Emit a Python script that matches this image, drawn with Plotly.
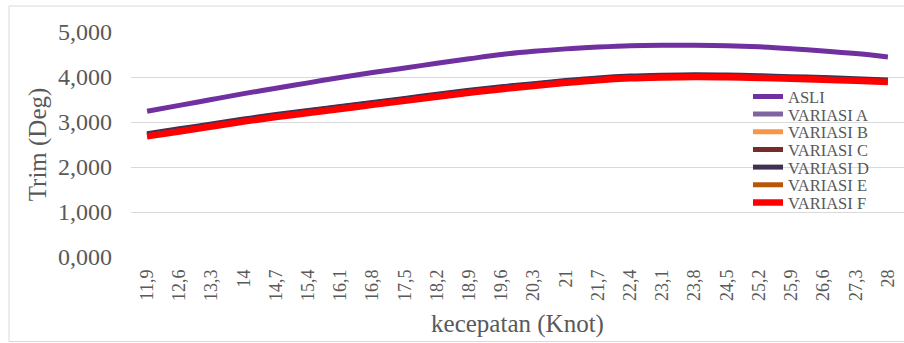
import plotly.graph_objects as go

# Speed categories (knots), labelled with decimal commas
kecepatan = ["11,9", "12,6", "13,3", "14", "14,7", "15,4", "16,1", "16,8", "17,5", "18,2",
             "18,9", "19,6", "20,3", "21", "21,7", "22,4", "23,1", "23,8", "24,5", "25,2",
             "25,9", "26,6", "27,3", "28"]

# Trim values (deg) per hull configuration
asli =      [3240, 3370, 3500, 3630, 3750, 3870, 3990, 4100, 4200, 4305, 4405, 4500,
             4570, 4625, 4665, 4695, 4705, 4705, 4695, 4670, 4630, 4580, 4520, 4445]
variasi_a = [2710, 2815, 2925, 3035, 3135, 3228, 3318, 3408, 3498, 3588, 3676, 3755,
             3825, 3893, 3951, 3990, 4010, 4019, 4013, 3998, 3977, 3957, 3932, 3906]
variasi_b = [2700, 2808, 2918, 3028, 3128, 3220, 3310, 3400, 3490, 3580, 3669, 3748,
             3818, 3886, 3945, 3984, 4004, 4013, 4007, 3992, 3971, 3951, 3926, 3900]
variasi_c = [2725, 2832, 2942, 3050, 3150, 3242, 3333, 3422, 3512, 3602, 3690, 3769,
             3838, 3906, 3964, 4002, 4022, 4031, 4025, 4010, 3989, 3968, 3943, 3917]
variasi_d = [2740, 2848, 2958, 3066, 3166, 3257, 3346, 3436, 3525, 3615, 3704, 3783,
             3852, 3921, 3980, 4020, 4040, 4050, 4044, 4028, 4008, 3988, 3962, 3935]
variasi_e = [2690, 2798, 2908, 3018, 3118, 3210, 3300, 3390, 3480, 3570, 3660, 3740,
             3810, 3878, 3938, 3977, 3997, 4007, 4001, 3986, 3966, 3946, 3921, 3895]
variasi_f = [2680, 2790, 2900, 3010, 3110, 3200, 3290, 3380, 3470, 3560, 3650, 3730,
             3800, 3870, 3930, 3970, 3990, 4000, 3995, 3980, 3960, 3940, 3915, 3890]

y_ticks = [0, 1000, 2000, 3000, 4000, 5000]
y_tick_text = ["0,000", "1,000", "2,000", "3,000", "4,000", "5,000"]

series = [
    ("ASLI", asli, "#7030A0", 5),
    ("VARIASI A", variasi_a, "#8064A2", 5),
    ("VARIASI B", variasi_b, "#F79646", 5),
    ("VARIASI C", variasi_c, "#772C2A", 5),
    ("VARIASI D", variasi_d, "#403152", 5),
    ("VARIASI E", variasi_e, "#B65708", 5),
    ("VARIASI F", variasi_f, "#FF0000", 6.5),
]

FONT = "Liberation Serif, Times New Roman, serif"
GREY = "#595959"

W, H = 904, 343
L, R, T, B = 131, 0, 32, 86
plot_w = W - L - R
plot_h = H - T - B

fig = go.Figure()

legend_layouts = {}
first_row_px = 96.7
row_px = 17.67
for k, (name, vals, color, width) in enumerate(series):
    key = "legend" if k == 0 else f"legend{k + 1}"
    fig.add_trace(go.Scatter(
        x=kecepatan, y=vals, name=name, mode="lines",
        line=dict(color=color, width=width, shape="spline", smoothing=1.0),
        legend=key,
    ))
    ypx = first_row_px + row_px * k
    legend_layouts[key] = dict(
        x=(748 - L) / plot_w, xanchor="left",
        y=(H - B - ypx) / plot_h, yanchor="middle",
        bgcolor="rgba(0,0,0,0)", borderwidth=0,
        font=dict(family=FONT, size=16.5, color=GREY),
    )

fig.update_layout(
    width=W, height=H,
    margin=dict(l=L, r=R, t=T, b=B),
    paper_bgcolor="white", plot_bgcolor="white",
    showlegend=True,
    **legend_layouts,
)

fig.update_xaxes(
    type="category", range=[-0.5, len(kecepatan) - 0.5],
    showgrid=False, zeroline=False, showline=False,
    tickangle=-90, tickfont=dict(family=FONT, size=18, color=GREY),
    ticks="", ticklabelstandoff=8,
    title=dict(text="kecepatan (Knot)", font=dict(family=FONT, size=25, color=GREY),
               standoff=14),
)

fig.update_yaxes(
    range=[0, 5000], tickvals=y_ticks, ticktext=y_tick_text,
    showgrid=True, gridcolor="#D9D9D9", gridwidth=1,
    zeroline=False, showline=False, ticks="",
    tickfont=dict(family=FONT, size=24, color=GREY), ticklabelstandoff=18,
    title=dict(text="Trim (Deg)", font=dict(family=FONT, size=25, color=GREY),
               standoff=4),
)

# chart-area frame
fig.add_shape(
    type="rect", xref="paper", yref="paper",
    x0=(9 - L) / plot_w, x1=(W + 5 - L) / plot_w,
    y0=(H - B - 341.5) / plot_h, y1=(H - B - 6) / plot_h,
    line=dict(color="#D9D9D9", width=1), fillcolor="rgba(0,0,0,0)", layer="below",
)

fig.write_html("out.html")
